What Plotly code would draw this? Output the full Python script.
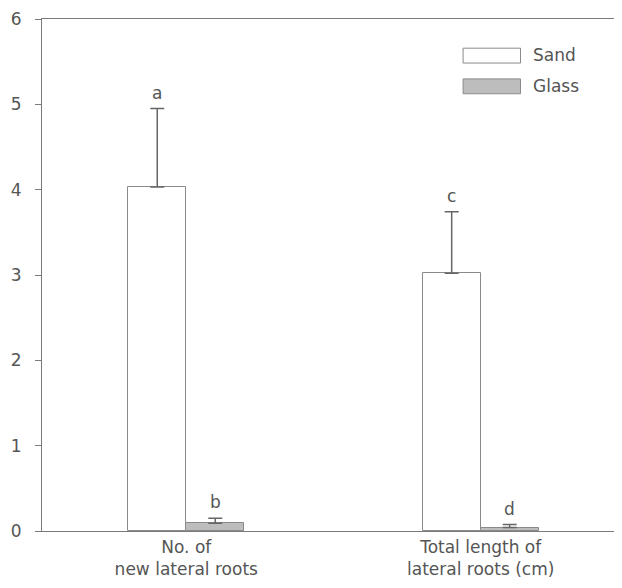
import plotly.graph_objects as go

categories = ["No. of<br>new lateral roots", "Total length of<br>lateral roots (cm)"]
series_names = ["Sand", "Glass"]
sand = [4.03, 3.02]
sand_err = [0.92, 0.72]
glass = [0.09, 0.04]
glass_err = [0.06, 0.035]
sand_letters = ["a", "c"]
glass_letters = ["b", "d"]
y_ticks = [0, 1, 2, 3, 4, 5, 6]

xpos = list(range(len(categories)))
W = 0.197
FONT = "DejaVu Sans, Liberation Sans, Arial, sans-serif"
FS = 17
TXT = "#555555"
LINE = "#7a7a7a"
fills = ["#ffffff", "#bdbdbd"]

fig = go.Figure()
for name, vals, errs, fill, off in [
    (series_names[0], sand, sand_err, fills[0], -W),
    (series_names[1], glass, glass_err, fills[1], 0.0),
]:
    fig.add_trace(go.Bar(
        x=xpos, y=vals, name=name, width=W, offset=off,
        marker=dict(color=fill, line=dict(color="#8a8a8a", width=1)),
        error_y=dict(type="data", symmetric=False, array=errs,
                     arrayminus=[0] * len(errs), color="#666666",
                     thickness=1.5, width=7),
        showlegend=False,
    ))

# significance letters
for vals, errs, letters, off in [(sand, sand_err, sand_letters, -W / 2),
                                 (glass, glass_err, glass_letters, W / 2)]:
    for i, (v, e, l) in enumerate(zip(vals, errs, letters)):
        fig.add_annotation(x=xpos[i] + off, y=v + e, text=l, showarrow=False,
                           yanchor="bottom", yshift=4,
                           font=dict(family=FONT, size=FS, color=TXT))

# custom legend (wide swatches)
leg = [(0.943, 0.914, 0.930), (0.883, 0.854, 0.869)]
for (y1, y0, yt), name, fill in zip(leg, series_names, fills):
    fig.add_shape(type="rect", xref="paper", yref="paper",
                  x0=0.726, x1=0.825, y0=y0, y1=y1,
                  fillcolor=fill, line=dict(color="#8a8a8a", width=1))
    fig.add_annotation(xref="paper", yref="paper", x=0.843, y=yt, text=name,
                       showarrow=False, xanchor="left", yanchor="middle",
                       font=dict(family=FONT, size=FS, color=TXT))

fig.update_layout(
    width=622, height=588,
    margin=dict(l=34, r=8, t=11, b=65),
    paper_bgcolor="white", plot_bgcolor="white",
    font=dict(family=FONT, size=FS, color=TXT),
    bargap=0,
)
fig.update_xaxes(
    range=[-0.49, 1.48], tickvals=xpos, ticktext=categories,
    showgrid=False, zeroline=False, ticks="", automargin=False,
    showline=True, linecolor=LINE, linewidth=1.2, mirror=True,
    tickfont=dict(family=FONT, size=FS, color=TXT),
)
fig.update_yaxes(
    range=[0, 6], tickvals=y_ticks, showgrid=False, zeroline=False,
    ticks="outside", ticklen=6, tickcolor=LINE, ticklabelstandoff=10,
    automargin=False,
    showline=True, linecolor=LINE, linewidth=1.2, mirror=True,
    tickfont=dict(family=FONT, size=FS, color=TXT),
)

fig.write_html("out.html")
